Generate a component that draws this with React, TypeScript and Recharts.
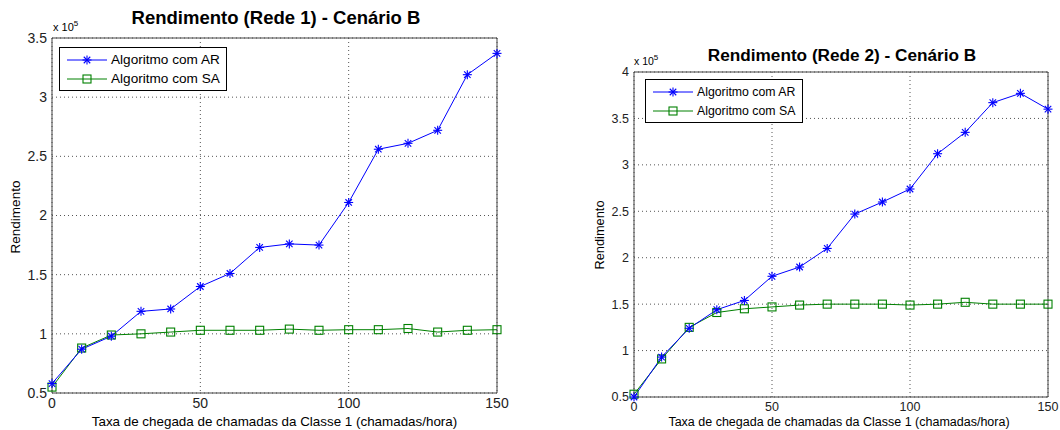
import React from "react";
import { LineChart, Line, XAxis, YAxis, CartesianGrid, ReferenceLine } from "recharts";

const xRate = [0, 10, 20, 30, 40, 50, 60, 70, 80, 90, 100, 110, 120, 130, 140, 150];
// values in units of 10^5
const rede1AR = [0.58, 0.87, 0.98, 1.19, 1.21, 1.4, 1.51, 1.73, 1.76, 1.75, 2.11, 2.56, 2.61, 2.72, 3.19, 3.37];
const rede1SA = [0.55, 0.88, 0.99, 1.0, 1.015, 1.03, 1.03, 1.03, 1.04, 1.03, 1.035, 1.035, 1.045, 1.015, 1.03, 1.035];
const rede2AR = [0.5, 0.93, 1.24, 1.44, 1.54, 1.8, 1.9, 2.1, 2.47, 2.6, 2.74, 3.12, 3.35, 3.67, 3.77, 3.6];
const rede2SA = [0.53, 0.91, 1.25, 1.41, 1.45, 1.47, 1.49, 1.5, 1.5, 1.5, 1.49, 1.5, 1.52, 1.5, 1.5, 1.5];

const xTicks = [0, 50, 100, 150];
const yTicks1 = [0.5, 1, 1.5, 2, 2.5, 3, 3.5];
const yTicks2 = [0.5, 1, 1.5, 2, 2.5, 3, 3.5, 4];

const seriesAR = "Algoritmo com AR";
const seriesSA = "Algoritmo com SA";
const xLabel = "Taxa de chegada de chamadas da Classe 1 (chamadas/hora)";
const yLabel = "Rendimento";

const FONT = "'Liberation Sans', Arial, sans-serif";
const BLUE = "#0000ff";
const GREEN = "#008000";

/* ─── markers ─── */
function Star(props: any) {
  const { cx, cy } = props;
  if (cx == null || cy == null) return null;
  const r = 4.5;
  const d = r * 0.72;
  return (
    <g stroke={BLUE} strokeWidth={1.1}>
      <line x1={cx - r} y1={cy} x2={cx + r} y2={cy} />
      <line x1={cx} y1={cy - r} x2={cx} y2={cy + r} />
      <line x1={cx - d} y1={cy - d} x2={cx + d} y2={cy + d} />
      <line x1={cx - d} y1={cy + d} x2={cx + d} y2={cy - d} />
    </g>
  );
}

function Square(props: any) {
  const { cx, cy } = props;
  if (cx == null || cy == null) return null;
  const s = 4;
  return <rect x={cx - s} y={cy - s} width={s * 2} height={s * 2} fill="none" stroke={GREEN} strokeWidth={1.1} />;
}

/* ─── legend ─── */
function LegendBox({ left, top, width, fontSize, rowGap }: { left: number; top: number; width: number; fontSize: number; rowGap: number }) {
  const row = (name: string, color: string, marker: "star" | "square") => (
    <div style={{ display: "flex", alignItems: "center", height: rowGap }}>
      <svg width={42} height={12} style={{ marginRight: 3 }}>
        <line x1={1} y1={6} x2={41} y2={6} stroke={color} strokeWidth={1} />
        {marker === "star" ? <Star cx={21} cy={6} /> : <Square cx={21} cy={6} />}
      </svg>
      <span>{name}</span>
    </div>
  );
  return (
    <div style={{
      position: "absolute", left, top, width,
      border: "1px solid #000", background: "#fff",
      padding: "2px 6px", boxSizing: "border-box",
      fontFamily: FONT, fontSize, color: "#000",
    }}>
      {row(seriesAR, BLUE, "star")}
      {row(seriesSA, GREEN, "square")}
    </div>
  );
}

/* ─── one panel ─── */
function Panel(p: {
  left: number; width: number; ar: number[]; sa: number[];
  yMax: number; yTicks: number[]; margin: { top: number; right: number; bottom: number; left: number };
  tickFont: number;
}) {
  const data = xRate.map((x, i) => ({ x, ar: p.ar[i], sa: p.sa[i] }));
  const tick = { fontFamily: FONT, fontSize: p.tickFont, fill: "#222" };
  return (
    <div style={{ position: "absolute", left: p.left, top: 0 }}>
      <LineChart width={p.width} height={430} data={data} margin={p.margin}>
        <CartesianGrid stroke="#555" strokeDasharray="1 3" />
        <XAxis
          dataKey="x" type="number" domain={[0, 150]} ticks={xTicks}
          tick={tick} tickLine={false} tickSize={3} tickMargin={2}
          axisLine={{ stroke: "#444" }} height={30}
        />
        <YAxis
          type="number" domain={[0.5, p.yMax]} ticks={p.yTicks}
          tick={tick} tickLine={false} tickSize={3} tickMargin={2}
          axisLine={{ stroke: "#444" }} width={40}
        />
        <ReferenceLine y={p.yMax} stroke="#444" strokeWidth={1} />
        <ReferenceLine x={150} stroke="#444" strokeWidth={1} />
        <Line dataKey="sa" name={seriesSA} stroke={GREEN} strokeWidth={1} dot={<Square />} isAnimationActive={false} />
        <Line dataKey="ar" name={seriesAR} stroke={BLUE} strokeWidth={1} dot={<Star />} isAnimationActive={false} />
      </LineChart>
    </div>
  );
}

const abs = (s: React.CSSProperties): React.CSSProperties => ({ position: "absolute", fontFamily: FONT, color: "#000", whiteSpace: "nowrap", ...s });

export default function App() {
  return (
    <div style={{ position: "absolute", left: 0, top: 0, width: 1060, height: 430, background: "#fff", overflow: "hidden" }}>
      {/* Rede 1 */}
      <Panel left={0} width={530} ar={rede1AR} sa={rede1SA} yMax={3.5} yTicks={yTicks1}
        margin={{ top: 38, right: 33, bottom: 7, left: 12 }} tickFont={14} />
      <div style={abs({ left: 0, width: 552, top: 7, textAlign: "center", fontWeight: 700, fontSize: 18.5 })}>
        Rendimento (Rede 1) - Cenário B
      </div>
      <div style={abs({ left: 53, top: 19, fontSize: 11 })}>
        x 10<sup style={{ fontSize: 8 }}>5</sup>
      </div>
      <div style={abs({ left: 15, top: 217, fontSize: 13.5, transform: "translate(-50%, -50%) rotate(-90deg)" })}>{yLabel}</div>
      <div style={abs({ left: 52, width: 445, top: 414, textAlign: "center", fontSize: 13.4 })}>{xLabel}</div>
      <LegendBox left={59} top={47} width={168} fontSize={13.6} rowGap={19} />

      {/* Rede 2 */}
      <Panel left={560} width={500} ar={rede2AR} sa={rede2SA} yMax={4} yTicks={yTicks2}
        margin={{ top: 72, right: 12, bottom: 3, left: 34 }} tickFont={12.5} />
      <div style={abs({ left: 560, width: 564, top: 45, textAlign: "center", fontWeight: 700, fontSize: 17.2 })}>
        Rendimento (Rede 2) - Cenário B
      </div>
      <div style={abs({ left: 634, top: 53, fontSize: 10.5 })}>
        x 10<sup style={{ fontSize: 8 }}>5</sup>
      </div>
      <div style={abs({ left: 599, top: 235, fontSize: 12.8, transform: "translate(-50%, -50%) rotate(-90deg)" })}>{yLabel}</div>
      <div style={abs({ left: 634, width: 410, top: 415, textAlign: "center", fontSize: 12.5 })}>{xLabel}</div>
      <LegendBox left={645} top={79} width={158} fontSize={12.3} rowGap={19} />
    </div>
  );
}
